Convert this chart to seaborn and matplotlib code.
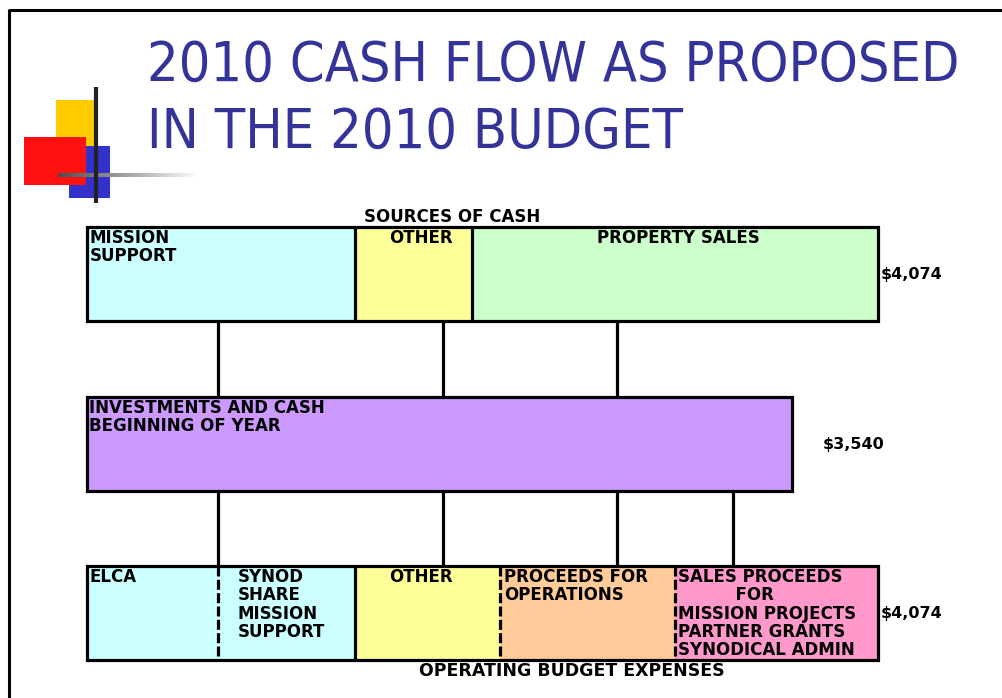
import numpy as np
import seaborn as sns
import matplotlib.pyplot as plt

# slide data (segment widths in slide units)
title_lines = ["2010 CASH FLOW AS PROPOSED", "IN THE 2010 BUDGET"]

top_labels = ["MISSION\nSUPPORT", "OTHER", "PROPERTY SALES"]
top_widths = [268, 117, 406]
top_colors = ["#CCFFFF", "#FFFF99", "#CCFFCC"]
top_total = "$4,074"

mid_labels = ["INVESTMENTS AND CASH\nBEGINNING OF YEAR"]
mid_widths = [705]
mid_colors = ["#CC99FF"]
mid_total = "$3,540"

bot_labels = ["ELCA", "SYNOD\nSHARE\nMISSION\nSUPPORT", "OTHER", "PROCEEDS FOR\nOPERATIONS",
              "SALES PROCEEDS\n          FOR\nMISSION PROJECTS\nPARTNER GRANTS\nSYNODICAL ADMIN"]
bot_widths = [131, 137, 145, 175, 203]
bot_colors = ["#CCFFFF", "#CCFFFF", "#FFFF99", "#FFCC99", "#FF99CC"]
bot_dividers = ["--", "-", "--", "--"]
bot_total = "$4,074"

sns.set_style("white")
plt.rcParams['lines.scale_dashes'] = False
plt.rcParams['font.family'] = ['DejaVu Sans']
plt.rcParams['text.color'] = 'black'

fig = plt.figure(figsize=(10.03, 6.98), dpi=100)
ax = fig.add_axes([0, 0, 1, 1])
ax.set_xlim(0, 1003)
ax.set_ylim(698, 0)
ax.axis('off')

LW = 2.3
x0 = 87
bar_h = 94


def draw_bar(yc, widths, colors, dividers=None):
    lefts = x0 + np.concatenate([[0], np.cumsum(widths)[:-1]])
    ax.barh([yc] * len(widths), widths, left=lefts, height=bar_h, color=colors,
            edgecolor='none', zorder=2)
    total = sum(widths)
    ax.add_patch(plt.Rectangle((x0, yc - bar_h / 2), total, bar_h, fill=False,
                               edgecolor='black', lw=LW, zorder=4))
    if dividers is None:
        dividers = ["-"] * (len(widths) - 1)
    for xd, ls in zip(lefts[1:], dividers):
        style = '-' if ls == '-' else (0, (7.2, 2.4))
        ax.vlines(xd, yc - bar_h / 2, yc + bar_h / 2, colors='black', lw=LW,
                  linestyles=[style], zorder=3)
    return lefts


def put_lines(x, y, text, ha='left', size=12, step=18.3):
    # one text per line so the line pitch matches the slide
    for i, s in enumerate(text.split("\n")):
        ax.text(x, y + i * step, s, ha=ha, va='baseline', fontsize=size,
                fontweight='bold', zorder=6)


# frame
ax.plot([9, 1003], [9.5, 9.5], color='black', lw=2.2, solid_capstyle='butt')
ax.plot([9.5, 9.5], [9, 698], color='black', lw=2.2, solid_capstyle='butt')

# logo
ax.add_patch(plt.Rectangle((56, 100), 38, 46, color='#FFCC00', lw=0, zorder=1))
ax.add_patch(plt.Rectangle((69, 146), 41, 52, color='#3333CC', lw=0, zorder=2))
ax.add_patch(plt.Rectangle((24, 137), 62, 48, color='#FF1111', lw=0, zorder=3))
grad = np.linspace(0.3, 1.0, 200)[None, :]
ax.imshow(grad, cmap='gray', vmin=0, vmax=1, extent=(58, 200, 177, 173),
          aspect='auto', zorder=4)
ax.plot([96, 96], [87, 203], color='#222222', lw=3, solid_capstyle='butt', zorder=5)
ax.set_xlim(0, 1003)
ax.set_ylim(698, 0)

# title
for i, line in enumerate(title_lines):
    ax.text(147, 81 + 67 * i, line, fontsize=40, color='#333399',
            family=['DejaVu Sans'], fontstretch='condensed', va='baseline', ha='left')

# bars
top_l = draw_bar(274, top_widths, top_colors)
mid_l = draw_bar(444, mid_widths, mid_colors)
bot_l = draw_bar(613, bot_widths, bot_colors, bot_dividers)

# connectors
ax.vlines([218, 443, 617], 321, 397, colors='black', lw=LW, zorder=1)
ax.vlines([218, 443, 617, 733], 491, 566, colors='black', lw=LW, zorder=1)

put_lines(452, 222, "SOURCES OF CASH", ha='center')
put_lines(90, 243, top_labels[0])
put_lines(421, 243, top_labels[1], ha='center')
put_lines(678, 243, top_labels[2], ha='center')
put_lines(881, 279, top_total, size=11.5)

put_lines(89, 413, mid_labels[0])
put_lines(823, 449, mid_total, size=11.5)

put_lines(90, 582, bot_labels[0])
put_lines(238, 582, bot_labels[1])
put_lines(421, 582, bot_labels[2], ha='center')
put_lines(504, 582, bot_labels[3])
put_lines(678, 582, bot_labels[4])
put_lines(881, 618, bot_total, size=11.5)
put_lines(572, 676, "OPERATING BUDGET EXPENSES", ha='center', size=12.5)

fig.savefig("out.png", dpi=100)
